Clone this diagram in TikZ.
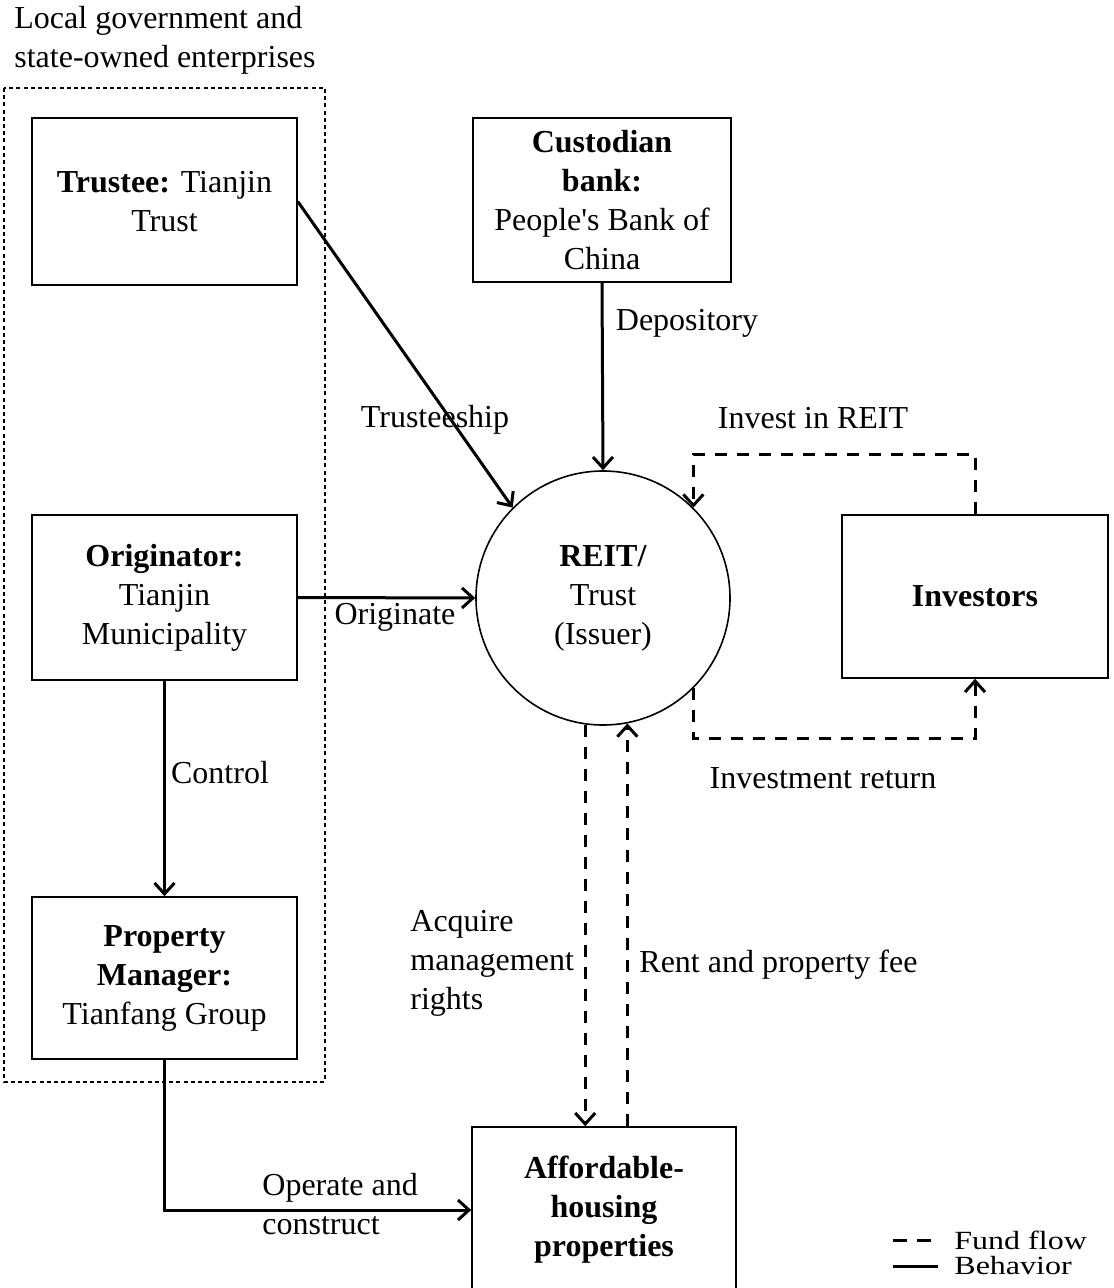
\documentclass[tikz,border=0pt]{standalone}
\usepackage{fontspec}
\setmainfont{Liberation Serif}
\usepackage{graphicx}
\usepackage{tikz}
\usetikzlibrary{arrows.meta}
\tikzset{>={Straight Barb[length=5.5pt,width=10pt]},
  box/.style = {draw=black,line width=0.8pt,rectangle,align=center,inner sep=0pt},
  reit/.style = {draw=black,line width=0.8pt,circle,align=center,inner sep=0pt,minimum size=127pt},
  act/.style = {line width=1.5pt},
  flow/.style = {line width=1.5pt,dash pattern=on 6pt off 5pt},
  group/.style = {line width=0.6pt,dash pattern=on 2pt off 1.6pt},
  lbl/.style = {inner sep=0pt,align=left}
}

\begin{document}
\begin{tikzpicture}[x=0.5pt,y=-0.5pt,font=\fontsize{16}{19.5}\selectfont]
      \useasboundingbox (0,0) rectangle (1113,1288);
      % local government group
      \draw[group] (4,88) rectangle (325,1082);
      \node[lbl,anchor=west] (G) at (14,40) {Local government and\\state-owned enterprises};
      \node[box,minimum width=132.5pt,minimum height=83.5pt] (T) at (164.5,201.5) {\textbf{Trustee:} Tianjin\\Trust};
      \node[box,minimum width=129pt,minimum height=82pt] (C) at (602,200) {\textbf{Custodian}\\\textbf{bank:}\\People\textquotesingle s Bank of\\China};
      \node[box,minimum width=132.5pt,minimum height=82.5pt] (O) at (164.5,597.5) {\textbf{Originator:}\\Tianjin\\Municipality};
      \node[box,minimum width=132.5pt,minimum height=81pt] (M) at (164.5,978) {\textbf{Property}\\\textbf{Manager:}\\Tianfang Group};
      \node[reit] (R) at (603,598) {\textbf{REIT/}\\Trust\\(Issuer)};
      \node[box,minimum width=133pt,minimum height=81.5pt] (I) at (975,596.5) {\textbf{Investors}};
      \node[box,minimum width=132pt,minimum height=83pt] (H) at (604,1210) {\textbf{Affordable-}\\\textbf{housing}\\\textbf{properties}};
      % behavior
      \draw[act,->] (T.east) -- (R.135);
      \draw[act,->] (C.south) -- (R.north);
      \draw[act,->] (O.east) -- (R.west);
      \draw[act,->] (O.south) -- (M.north);
      \draw[act,->] (M.south) |- (H.west);
      % fund flow
      \draw[flow,->] (I.north) -- ++(0,-60) -| (R.45);
      \draw[flow,->] (R.-45) -- ++(0,50) -| (I.south);
      \draw[flow,->] (R.-98) -- (R.-98 |- H.north);
      \draw[flow,->] (R.-79 |- H.north) -- (R.-79);
      % labels
      \node[lbl] (ts) at (435,420) {Trusteeship};
      \node[lbl] (dp) at (687,323) {Depository};
      \node[lbl] (iv) at (813,418) {Invest in REIT};
      \node[lbl] (og) at (395,617) {Originate};
      \node[lbl] (ct) at (220,773) {Control};
      \node[lbl] (rt) at (823,778) {Investment return};
      \node[lbl,anchor=west] (aq) at (410,963) {Acquire\\management\\rights};
      \node[lbl,anchor=west] (rp) at (639,965) {Rent and property fee};
      \node[lbl,anchor=west] (oc) at (262,1204) {Operate and\\construct};
      % legend
      \coordinate (L1) at (893,1240);
      \coordinate (L2) at (893,1266);
      \draw[line width=1.5pt,dash pattern=on 7pt off 5pt] (L1) -- ++(47,0);
      \draw[line width=1.5pt] (L2) -- ++(45,0);
      \node[lbl,anchor=west] (ff) at (954,1240) {\scalebox{1}[0.82]{Fund flow}};
      \node[lbl,anchor=west] (bh) at (954,1266) {\scalebox{1}[0.82]{Behavior}};
    \end{tikzpicture}
\end{document}
